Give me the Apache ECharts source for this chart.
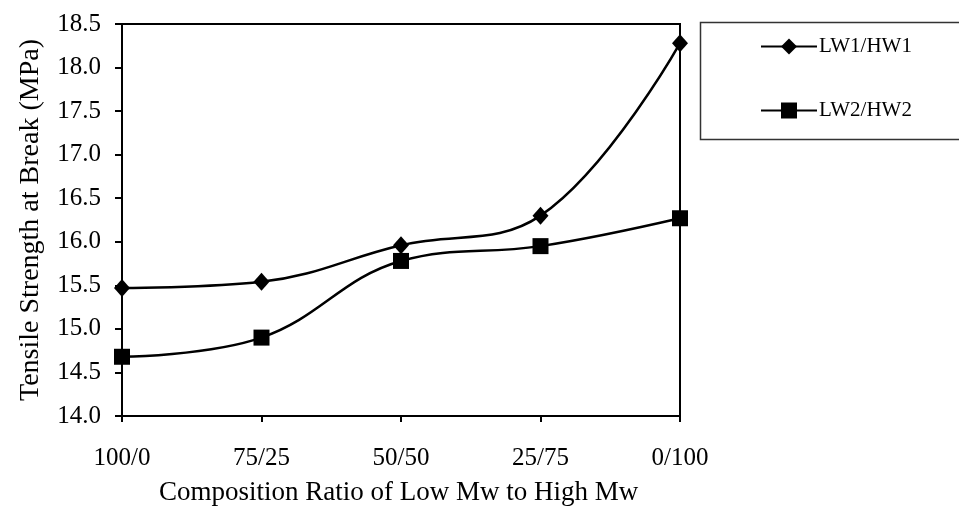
<!DOCTYPE html>
<html><head><meta charset="utf-8">
<script src="https://cdn.jsdelivr.net/npm/echarts@6/dist/echarts.min.js"></script>
<style>html,body{margin:0;padding:0;background:#fff}#c{width:959px;height:522px}</style>
</head><body><div id="c"></div>
<script>
const categories = ['100/0', '75/25', '50/50', '25/75', '0/100'];
const lw1hw1 = [15.47, 15.54, 15.96, 16.30, 18.28];
const lw2hw2 = [14.68, 14.90, 15.78, 15.95, 16.27];
const seriesNames = ['LW1/HW1', 'LW2/HW2'];
const yMin = 14.0, yMax = 18.5, yStep = 0.5;

const font = '"Liberation Serif", "Times New Roman", serif';
const chart = echarts.init(document.getElementById('c'));
chart.setOption({
  backgroundColor: '#fff',
  animation: false,
  textStyle: { fontFamily: font, color: '#000' },
  grid: { left: 122, right: 279, top: 24, bottom: 106, show: true, borderColor: '#000', borderWidth: 2, backgroundColor: 'transparent' },
  graphic: [
    { type: 'rect', left: 698, top: 20, shape: { width: 270, height: 117 }, style: { fill: 'none', stroke: '#333', lineWidth: 1.5 } },
    { type: 'text', left: 159, top: 479, style: { text: 'Composition Ratio of Low Mw to High Mw', font: '27px ' + font, fill: '#000' } }
  ],
  legend: {
    orient: 'vertical', left: 755, top: 31, itemWidth: 56, itemHeight: 20, itemGap: 43,
    textStyle: { fontFamily: font, fontSize: 21, color: '#000', padding: [0, 0, 0, -3] },
    data: seriesNames
  },
  xAxis: {
    type: 'category', data: categories, boundaryGap: false,
    axisLine: { lineStyle: { color: '#000', width: 2 } },
    axisTick: { show: true, length: 6, lineStyle: { color: '#000', width: 2 } },
    axisLabel: { color: '#000', fontFamily: font, fontSize: 25, margin: 30 }
  },
  yAxis: {
    type: 'value', min: yMin, max: yMax, interval: yStep,
    name: 'Tensile Strength at Break (MPa)', nameLocation: 'middle', nameGap: 77,
    nameTextStyle: { fontFamily: font, fontSize: 28, color: '#000' },
    splitLine: { show: false },
    axisLine: { show: true, lineStyle: { color: '#000', width: 2 } },
    axisTick: { show: true, length: 7, lineStyle: { color: '#000', width: 2 } },
    axisLabel: { color: '#000', fontFamily: font, fontSize: 25, margin: 21, formatter: v => v.toFixed(1) }
  },
  series: [
    { name: seriesNames[0], type: 'line', data: lw1hw1, smooth: 0.4, symbol: 'diamond', symbolSize: [16, 18],
      lineStyle: { color: '#000', width: 2.5 }, itemStyle: { color: '#000' } },
    { name: seriesNames[1], type: 'line', data: lw2hw2, smooth: 0.4, symbol: 'rect', symbolSize: 16,
      lineStyle: { color: '#000', width: 2.5 }, itemStyle: { color: '#000' } }
  ]
});
</script></body></html>
